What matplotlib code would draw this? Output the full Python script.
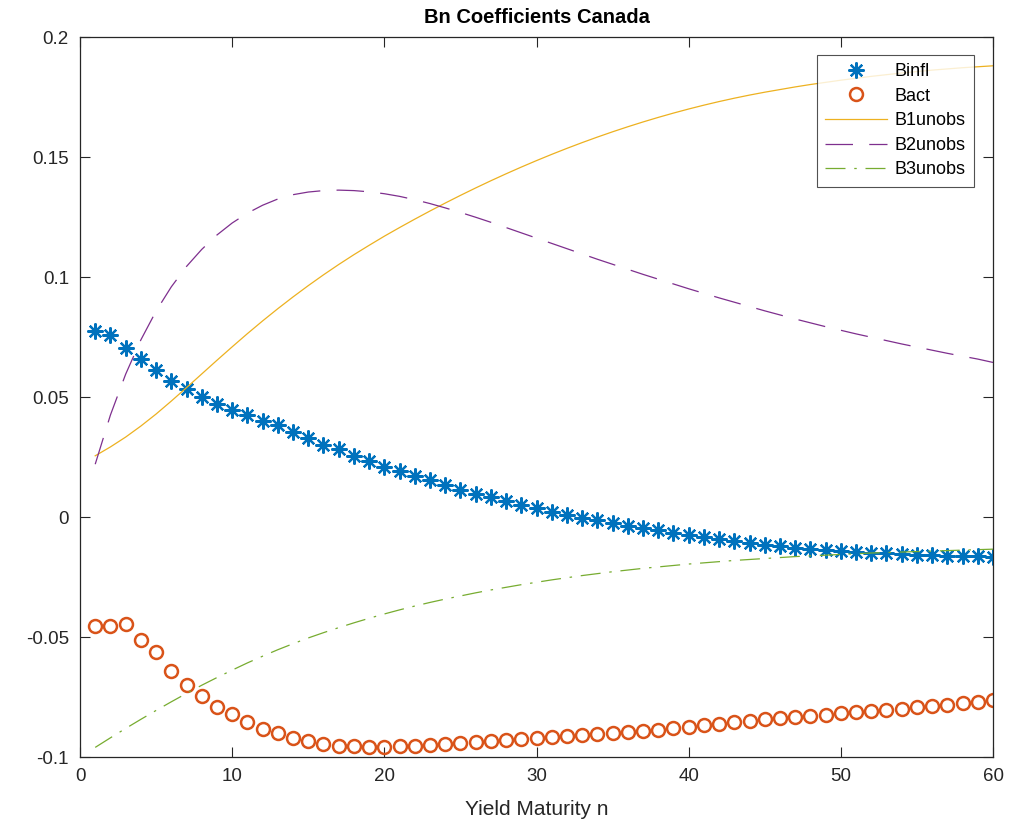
import matplotlib
matplotlib.use("Agg")
import matplotlib.pyplot as plt
import numpy as np

n = list(range(1, 61))

binfl = [0.0775, 0.0758, 0.0704, 0.0658, 0.0613, 0.0567, 0.0533, 0.0500, 0.0470, 0.0446,
         0.0425, 0.0400, 0.0383, 0.0354, 0.0330, 0.0302, 0.0283, 0.0254, 0.0233, 0.0210,
         0.0190, 0.0170, 0.0154, 0.0133, 0.0112, 0.0096, 0.0083, 0.0067, 0.0050, 0.0037,
         0.0020, 0.0008, -0.0004, -0.0013, -0.0025, -0.0037, -0.0046, -0.0054, -0.0067, -0.0075,
         -0.0083, -0.0092, -0.0100, -0.0108, -0.0117, -0.0121, -0.0129, -0.0133, -0.0137, -0.0142,
         -0.0146, -0.0150, -0.0150, -0.0154, -0.0158, -0.0158, -0.0162, -0.0162, -0.0162, -0.0167]

bact = [-0.0454, -0.0454, -0.0446, -0.0513, -0.0563, -0.0642, -0.0700, -0.0746, -0.0792, -0.0820,
        -0.0854, -0.0883, -0.0900, -0.0920, -0.0933, -0.0946, -0.0954, -0.0954, -0.0958, -0.0958,
        -0.0954, -0.0954, -0.0950, -0.0946, -0.0942, -0.0937, -0.0933, -0.0929, -0.0925, -0.0920,
        -0.0917, -0.0912, -0.0908, -0.0904, -0.0900, -0.0896, -0.0892, -0.0888, -0.0879, -0.0875,
        -0.0867, -0.0863, -0.0854, -0.0850, -0.0842, -0.0838, -0.0833, -0.0829, -0.0825, -0.0817,
        -0.0813, -0.0808, -0.0804, -0.0800, -0.0792, -0.0788, -0.0783, -0.0775, -0.0771, -0.0763]

b1unobs = [0.0255, 0.0292, 0.0333, 0.0379, 0.0429, 0.0483, 0.0539, 0.0596, 0.0653, 0.0709,
           0.0764, 0.0817, 0.0868, 0.0917, 0.0964, 0.1009, 0.1052, 0.1093, 0.1132, 0.1170,
           0.1206, 0.1241, 0.1275, 0.1308, 0.1340, 0.1371, 0.1401, 0.1430, 0.1458, 0.1485,
           0.1511, 0.1536, 0.1560, 0.1583, 0.1605, 0.1626, 0.1646, 0.1665, 0.1683, 0.1700,
           0.1716, 0.1731, 0.1745, 0.1758, 0.1770, 0.1781, 0.1792, 0.1802, 0.1811, 0.1820,
           0.1828, 0.1836, 0.1843, 0.1850, 0.1856, 0.1862, 0.1867, 0.1872, 0.1876, 0.1880]

b2unobs = [0.0220, 0.0425, 0.0595, 0.0738, 0.0858, 0.0959, 0.1044, 0.1115, 0.1175, 0.1225,
           0.1266, 0.1299, 0.1325, 0.1343, 0.1354, 0.1360, 0.1362, 0.1360, 0.1355, 0.1347,
           0.1336, 0.1322, 0.1306, 0.1288, 0.1269, 0.1249, 0.1228, 0.1206, 0.1184, 0.1162,
           0.1140, 0.1118, 0.1096, 0.1074, 0.1053, 0.1032, 0.1011, 0.0991, 0.0971, 0.0951,
           0.0932, 0.0913, 0.0895, 0.0877, 0.0859, 0.0842, 0.0825, 0.0809, 0.0793, 0.0778,
           0.0763, 0.0749, 0.0735, 0.0721, 0.0708, 0.0695, 0.0682, 0.0670, 0.0658, 0.0644]

b3unobs = [-0.0960, -0.0920, -0.0881, -0.0843, -0.0806, -0.0770, -0.0735, -0.0701, -0.0669, -0.0638,
           -0.0608, -0.0580, -0.0553, -0.0528, -0.0504, -0.0482, -0.0461, -0.0441, -0.0422, -0.0404,
           -0.0387, -0.0371, -0.0356, -0.0342, -0.0329, -0.0316, -0.0304, -0.0293, -0.0282, -0.0272,
           -0.0262, -0.0253, -0.0244, -0.0236, -0.0228, -0.0221, -0.0214, -0.0208, -0.0202, -0.0196,
           -0.0191, -0.0186, -0.0181, -0.0177, -0.0173, -0.0169, -0.0165, -0.0162, -0.0159, -0.0156,
           -0.0153, -0.0150, -0.0148, -0.0146, -0.0144, -0.0142, -0.0140, -0.0138, -0.0136, -0.0134]

xticks = [0, 10, 20, 30, 40, 50, 60]
yticks = [-0.1, -0.05, 0, 0.05, 0.1, 0.15, 0.2]
ytick_labels = ["-0.1", "-0.05", "0", "0.05", "0.1", "0.15", "0.2"]

plt.rcParams['font.family'] = ['Liberation Sans', 'DejaVu Sans']

fig = plt.figure(figsize=(10.17, 8.19), dpi=100)
ax = fig.add_axes([80/1017, 62/819, 913/1017, 720/819])

ax.plot(n, binfl, linestyle='none', marker=(8, 2, 0), markersize=11.5, markeredgewidth=1.6,
        color='#0072BD', label='Binfl')
ax.plot(n, bact, linestyle='none', marker='o', markersize=9.3, markeredgewidth=1.8,
        markerfacecolor='none', markeredgecolor='#D95319', label='Bact')
ax.plot(n, b1unobs, '-', color='#EDB120', linewidth=0.9, label='B1unobs')
ax.plot(n, b2unobs, color='#7E2F8E', linewidth=0.9, dashes=(22, 13), label='B2unobs')
ax.plot(n, b3unobs, color='#77AC30', linewidth=0.9, dashes=(16, 7, 2, 7), label='B3unobs')

ax.set_xlim(0, 60)
ax.set_ylim(-0.1, 0.2)
ax.set_xticks(xticks)
ax.set_yticks(yticks)
ax.set_yticklabels(ytick_labels)
ax.tick_params(direction='in', length=7, width=0.8, top=True, right=True,
               labelsize=13.5, colors='#262626', pad=8)
for s in ax.spines.values():
    s.set_color('#262626')
    s.set_linewidth(0.9)

ax.set_title('Bn Coefficients Canada', fontsize=14.5, fontweight='bold', pad=10)
ax.set_xlabel('Yield Maturity n', fontsize=15, color='#262626', labelpad=11)

leg = ax.legend(loc='upper right', bbox_to_anchor=(974/1017, (819-55)/819),
                bbox_transform=fig.transFigure, fontsize=13, frameon=True,
                fancybox=False, edgecolor='#262626', handlelength=3.4,
                borderpad=0.45, labelspacing=0.42, handletextpad=0.45,
                borderaxespad=0)
leg.get_frame().set_linewidth(0.8)

fig.savefig('out.png', dpi=100)
